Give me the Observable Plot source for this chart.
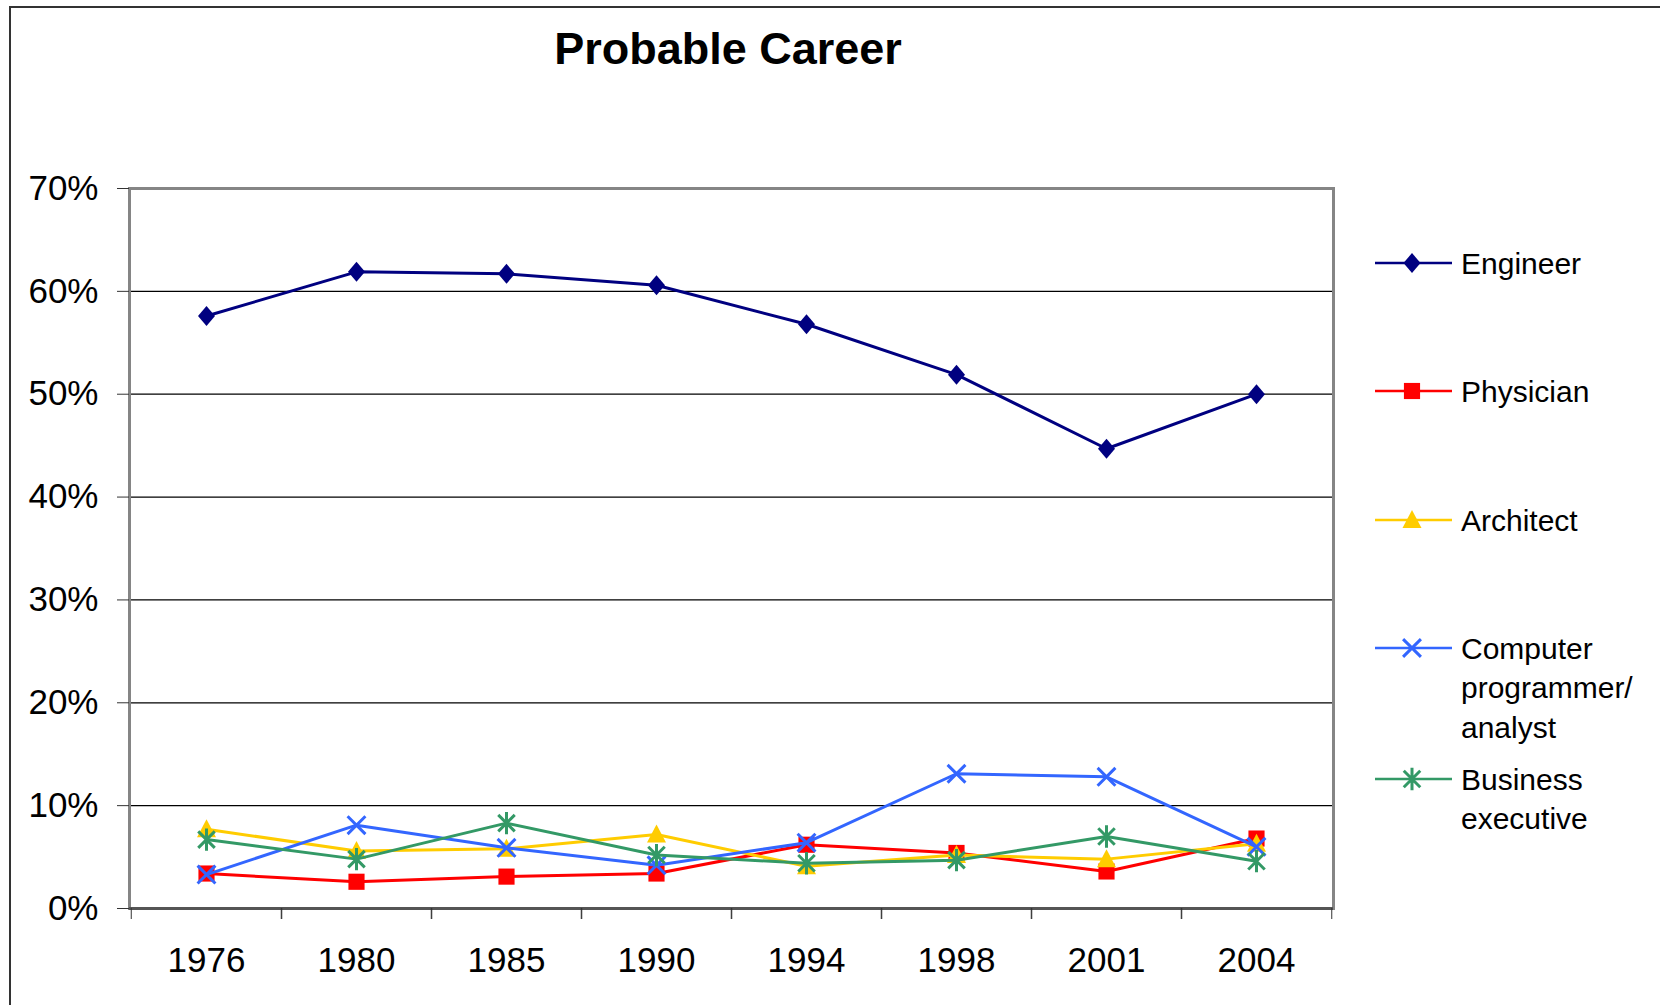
<!DOCTYPE html>
<html>
<head>
<meta charset="utf-8">
<script src="https://cdn.jsdelivr.net/npm/d3@7"></script>
<script src="https://cdn.jsdelivr.net/npm/@observablehq/plot@0.6"></script>
<style>
  html, body { margin: 0; padding: 0; background: #fff; }
  #wrap { position: relative; width: 1660px; height: 1005px; overflow: hidden; background: #fff;
          font-family: "Liberation Sans", Arial, sans-serif; }
  #wrap > svg { position: absolute; left: 0; top: 0; }
  #overlay { pointer-events: none; }
</style>
</head>
<body>
<div id="wrap"></div>
<script>
// ---- data ----
const years = ["1976", "1980", "1985", "1990", "1994", "1998", "2001", "2004"];
const seriesNames = ["Engineer", "Physician", "Architect", "Computer programmer/analyst", "Business executive"];
const engineer  = [57.6, 61.9, 61.7, 60.6, 56.8, 51.9, 44.7, 50.0];
const physician = [3.4, 2.6, 3.1, 3.4, 6.2, 5.4, 3.6, 6.8];
const architect = [7.7, 5.6, 5.8, 7.2, 4.1, 5.2, 4.8, 6.3];
const computer  = [3.3, 8.1, 5.9, 4.2, 6.4, 13.1, 12.8, 6.0];
const business  = [6.7, 4.8, 8.3, 5.2, 4.4, 4.7, 7.0, 4.6];
const yTicks = [0, 10, 20, 30, 40, 50, 60, 70];
const legendLines = [["Engineer"], ["Physician"], ["Architect"], ["Computer", "programmer/", "analyst"], ["Business", "executive"]];

const valuesList = [engineer, physician, architect, computer, business];
const rows = seriesNames.flatMap((name, s) => valuesList[s].map((v, i) => ({series: name, year: years[i], value: v})));

// ---- Excel-like marker symbols ----
const half = (size) => Math.sqrt(size / Math.PI);
const symDiamond = {draw(c, size) { const h = half(size); c.moveTo(0, -h); c.lineTo(h * 0.85, 0); c.lineTo(0, h); c.lineTo(-h * 0.85, 0); c.closePath(); }};
const symSquare = {draw(c, size) { const h = half(size) * 0.85; c.moveTo(-h, -h); c.lineTo(h, -h); c.lineTo(h, h); c.lineTo(-h, h); c.closePath(); }};
const symTriangle = {draw(c, size) { const h = half(size); c.moveTo(0, -h); c.lineTo(h * 0.95, h * 0.8); c.lineTo(-h * 0.95, h * 0.8); c.closePath(); }};
const symX = {draw(c, size) { const h = half(size) * 0.85; c.moveTo(-h, -h); c.lineTo(h, h); c.moveTo(-h, h); c.lineTo(h, -h); }};
const symStar = {draw(c, size) { const h = half(size) * 0.75; c.moveTo(-h, -h); c.lineTo(h, h); c.moveTo(-h, h); c.lineTo(h, -h); c.moveTo(0, -h * 1.35); c.lineTo(0, h * 1.35); }};

const styles = [
  {color: "#000080", symbol: symDiamond, filled: true, r: 10},
  {color: "#FF0000", symbol: symSquare, filled: true, r: 9.5},
  {color: "#FFCC00", symbol: symTriangle, filled: true, r: 10},
  {color: "#3366FF", symbol: symX, filled: false, r: 10.5},
  {color: "#339966", symbol: symStar, filled: false, r: 11}
];

const W = 1660, H = 1005;
const mL = 129, mR = 327, mT = 188, mB = 97;
const step = (W - mL - mR) / years.length;
const FONT = "Liberation Sans, Arial, sans-serif";

const seriesMarks = seriesNames.flatMap((name, s) => {
  const st = styles[s];
  const data = rows.filter(r => r.series === name);
  return [
    Plot.line(data, {x: "year", y: "value", stroke: st.color, strokeWidth: 3}),
    Plot.dot(data, {x: "year", y: "value", symbol: st.symbol, r: st.r,
      fill: st.filled ? st.color : "none", stroke: st.filled ? "none" : st.color, strokeWidth: st.filled ? 0 : 3})
  ];
});

const chart = Plot.plot({
  width: W, height: H,
  marginLeft: mL, marginRight: mR, marginTop: mT, marginBottom: mB,
  style: {fontFamily: FONT, fontSize: "35px", color: "#000", background: "transparent", overflow: "visible"},
  x: {type: "point", domain: years, padding: 0.5, label: null},
  y: {domain: [0, 70], label: null},
  marks: [
    Plot.gridY(yTicks.slice(1, -1), {stroke: "#000", strokeOpacity: 1, strokeWidth: 1.2}),
    Plot.frame({stroke: "#858585", strokeWidth: 3}),
    Plot.ruleY([0], {stroke: "#555", strokeWidth: 3}),
    Plot.axisY({ticks: yTicks, tickSize: 12, tickPadding: 19, tickFormat: d => d + "%", fontSize: 35, stroke: "#333"}),
    Plot.axisX({tickSize: 0, tickPadding: 39, fontSize: 35}),
    Plot.axisX({tickSize: 11, tickFormat: () => "", dx: -step / 2, stroke: "#333"}),
    Plot.axisX({tickSize: 11, tickFormat: () => "", dx: step / 2, stroke: "#333"}),
    ...seriesMarks
  ]
});

const wrap = document.getElementById("wrap");
wrap.appendChild(chart);

// ---- overlay: outer border, title, legend ----
const ov = d3.select(wrap).append("svg").attr("id", "overlay").attr("width", W).attr("height", H);
ov.append("rect").attr("x", 10).attr("y", 7).attr("width", W + 20).attr("height", H + 20)
  .attr("fill", "none").attr("stroke", "#333").attr("stroke-width", 2);
ov.append("text").attr("x", 728).attr("y", 64).attr("text-anchor", "middle")
  .attr("font-family", FONT).attr("font-weight", "bold").attr("font-size", 45).text("Probable Career");

const legY = [263, 391, 520, 648, 779];
const lg = ov.append("g");
legendLines.forEach((lines, s) => {
  const st = styles[s];
  const y = legY[s];
  lg.append("line").attr("x1", 1375).attr("x2", 1452).attr("y1", y).attr("y2", y)
    .attr("stroke", st.color).attr("stroke-width", 2.5);
  lg.append("path").attr("transform", `translate(1412,${y})`)
    .attr("d", d3.symbol(st.symbol, Math.PI * st.r * st.r)())
    .attr("fill", st.filled ? st.color : "none").attr("stroke", st.filled ? "none" : st.color).attr("stroke-width", 3);
  lines.forEach((t, k) => {
    lg.append("text").attr("x", 1461).attr("y", y + k * 39.5).attr("dy", "0.35em")
      .attr("font-family", FONT).attr("font-size", 30).attr("fill", "#000").text(t);
  });
});
</script>
</body>
</html>
